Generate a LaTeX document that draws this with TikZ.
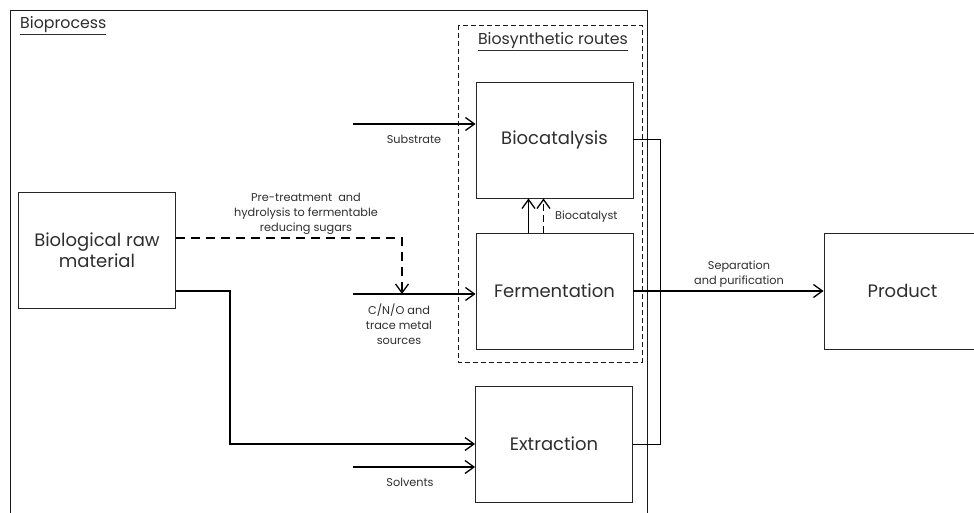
\documentclass[tikz,border=0pt]{standalone}
\usepackage{fontspec}
\setmainfont{Poppins}
\usetikzlibrary{arrows.meta,calc}
\begin{document}
\begin{tikzpicture}[x=1pt,y=-1pt,
  every node/.style={text=black!82},
  blk/.style={draw=black!85, line width=0.9pt, minimum width=157pt, minimum height=116pt,
    inner sep=0pt, align=center, font=\fontsize{18}{21}\selectfont},
  lbl/.style={align=center, inner sep=0pt, font=\fontsize{11.3}{15}\selectfont},
  heading/.style={inner sep=0pt, font=\fontsize{15.8}{18}\selectfont},
  flow/.style={line width=1.3pt, -{Straight Barb[length=9pt,width=13pt]}},
  dflow/.style={flow, dash pattern=on 9pt off 6pt},
  link/.style={line width=1pt},
  frame/.style={draw=black!90, line width=0.9pt},
  dashframe/.style={draw=black!90, line width=0.9pt, dash pattern=on 5pt off 3pt}]
\useasboundingbox (0,0) rectangle (974,513);
\clip (0,0) rectangle (974,513);

% enclosing frames
\draw[frame] (10,10) rectangle (647,540);
\draw[dashframe] (458,25) rectangle (642,362);
\node[heading, anchor=base west] (bp) at (20,29) {\underline{Bioprocess}};
\node[heading] (br) at (553,42) {\underline{Biosynthetic routes}};

% process blocks
\node[blk] (raw) at (97,250) {Biological raw\\material};
\node[blk] (bio) at (554.5,140) {Biocatalysis};
\node[blk] (fer) at (554.5,291) {Fermentation};
\node[blk] (ext) at (554,444) {Extraction};
\node[blk] (prod) at (902.5,291) {Product};

% helper points
\coordinate (subin) at (353,124);
\coordinate (cnoin) at (353,294);
\coordinate (solin) at (353,467);
\coordinate (dk) at (402,238);
\coordinate (sk) at (230,291);
\coordinate (bus) at (660,140);

% inputs
\draw[flow] (subin) -- (subin -| bio.west);
\draw[flow] (cnoin) -- (cnoin -| fer.west);
\draw[flow] (solin) -- (solin -| ext.west);
\draw[dflow] (raw.east |- dk) -- (dk) -- (dk |- cnoin);
\draw[flow] (raw.east |- sk) -- (sk) |- (ext.west);

% biocatalyst supply
\draw[flow] ($(fer.north)+(-26,0)$) -- ($(bio.south)+(-26,0)$);
\draw[dflow, dash pattern=on 7pt off 4pt] ($(fer.north)+(-11,0)$) -- ($(bio.south)+(-11,0)$);

% outputs
\draw[link] (bio.east) -- (bus) -- (bus |- ext.east) -- (ext.east);
\draw[flow] (fer.east) -- (prod.west);

% labels
\node[lbl] (lsub) at (414,139) {Substrate};
\node[lbl] (lpre) at (306,214) {Pre-treatment\ \ and\\hydrolysis to fermentable\\reducing sugars};
\node[lbl] (lcno) at (399,324) {C/N/O and\\trace metal\\sources};
\node[lbl] (lsol) at (410,482) {Solvents};
\node[lbl, anchor=west] (lcat) at (555,217) {Biocatalyst};
\node[lbl] (lsep) at (739,274.5) {Separation\\and purification};
\end{tikzpicture}
\end{document}
